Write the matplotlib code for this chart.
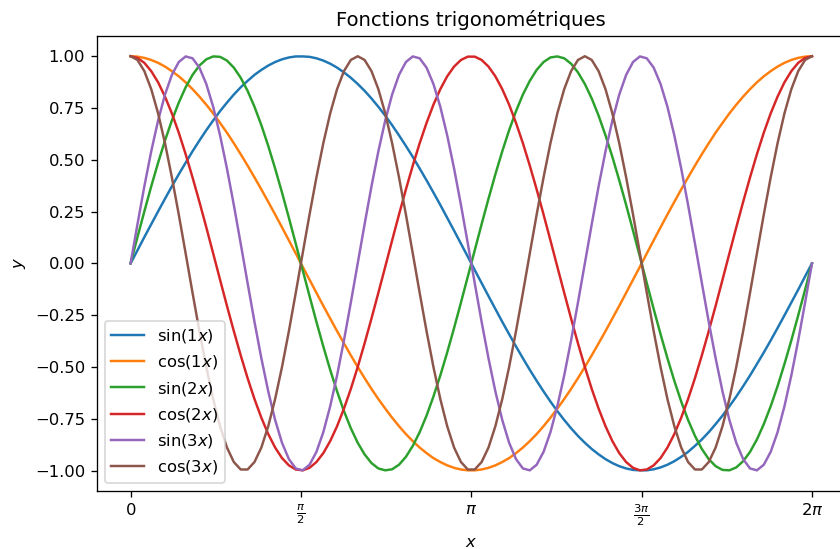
import numpy as np
import matplotlib
matplotlib.use('Agg')
import matplotlib.pyplot as plt

# 100 points between 0 and 2pi
x = np.linspace(0, 2 * np.pi, 100)

sin1 = [0.000, 0.063, 0.127, 0.189, 0.251, 0.312, 0.372, 0.430, 0.486, 0.541,
        0.593, 0.643, 0.690, 0.735, 0.776, 0.815, 0.850, 0.881, 0.910, 0.934,
        0.955, 0.972, 0.985, 0.994, 0.999, 0.999, 0.997, 0.990, 0.979, 0.964,
        0.945, 0.922, 0.896, 0.866, 0.833, 0.796, 0.756, 0.713, 0.667, 0.618,
        0.567, 0.514, 0.458, 0.401, 0.342, 0.282, 0.220, 0.158, 0.095, 0.032,
        -0.032, -0.095, -0.158, -0.220, -0.282, -0.342, -0.401, -0.458, -0.514, -0.567,
        -0.618, -0.667, -0.713, -0.756, -0.796, -0.833, -0.866, -0.896, -0.922, -0.945,
        -0.964, -0.979, -0.990, -0.997, -0.999, -0.999, -0.994, -0.985, -0.972, -0.955,
        -0.934, -0.910, -0.881, -0.850, -0.815, -0.776, -0.735, -0.690, -0.643, -0.593,
        -0.541, -0.486, -0.430, -0.372, -0.312, -0.251, -0.189, -0.127, -0.063, 0.000]

cos1 = [1.000, 0.998, 0.992, 0.982, 0.968, 0.950, 0.928, 0.903, 0.874, 0.841,
        0.805, 0.766, 0.724, 0.678, 0.631, 0.580, 0.527, 0.472, 0.415, 0.357,
        0.297, 0.236, 0.174, 0.111, 0.048, -0.016, -0.079, -0.142, -0.205, -0.266,
        -0.327, -0.386, -0.444, -0.500, -0.554, -0.606, -0.655, -0.701, -0.745, -0.786,
        -0.824, -0.858, -0.889, -0.916, -0.940, -0.959, -0.975, -0.987, -0.995, -0.999,
        -0.999, -0.995, -0.987, -0.975, -0.959, -0.940, -0.916, -0.889, -0.858, -0.824,
        -0.786, -0.745, -0.701, -0.655, -0.606, -0.554, -0.500, -0.444, -0.386, -0.327,
        -0.266, -0.205, -0.142, -0.079, -0.016, 0.048, 0.111, 0.174, 0.236, 0.297,
        0.357, 0.415, 0.472, 0.527, 0.580, 0.631, 0.678, 0.724, 0.766, 0.805,
        0.841, 0.874, 0.903, 0.928, 0.950, 0.968, 0.982, 0.992, 0.998, 1.000]

sin2 = [0.000, 0.127, 0.251, 0.372, 0.486, 0.593, 0.690, 0.776, 0.850, 0.910,
        0.955, 0.985, 0.999, 0.997, 0.979, 0.945, 0.896, 0.833, 0.756, 0.667,
        0.567, 0.458, 0.342, 0.220, 0.095, -0.032, -0.158, -0.282, -0.401, -0.514,
        -0.618, -0.713, -0.796, -0.866, -0.922, -0.964, -0.990, -0.999, -0.994, -0.972,
        -0.934, -0.881, -0.815, -0.735, -0.643, -0.541, -0.430, -0.312, -0.189, -0.063,
        0.063, 0.189, 0.312, 0.430, 0.541, 0.643, 0.735, 0.815, 0.881, 0.934,
        0.972, 0.994, 0.999, 0.990, 0.964, 0.922, 0.866, 0.796, 0.713, 0.618,
        0.514, 0.401, 0.282, 0.158, 0.032, -0.095, -0.220, -0.342, -0.458, -0.567,
        -0.667, -0.756, -0.833, -0.896, -0.945, -0.979, -0.997, -0.999, -0.985, -0.955,
        -0.910, -0.850, -0.776, -0.690, -0.593, -0.486, -0.372, -0.251, -0.127, 0.000]

cos2 = [1.000, 0.992, 0.968, 0.928, 0.874, 0.805, 0.724, 0.631, 0.527, 0.415,
        0.297, 0.174, 0.048, -0.079, -0.205, -0.327, -0.444, -0.554, -0.655, -0.745,
        -0.824, -0.889, -0.940, -0.975, -0.995, -0.999, -0.987, -0.959, -0.916, -0.858,
        -0.786, -0.701, -0.606, -0.500, -0.386, -0.266, -0.142, -0.016, 0.111, 0.236,
        0.357, 0.472, 0.580, 0.678, 0.766, 0.841, 0.903, 0.950, 0.982, 0.998,
        0.998, 0.982, 0.950, 0.903, 0.841, 0.766, 0.678, 0.580, 0.472, 0.357,
        0.236, 0.111, -0.016, -0.142, -0.266, -0.386, -0.500, -0.606, -0.701, -0.786,
        -0.858, -0.916, -0.959, -0.987, -0.999, -0.995, -0.975, -0.940, -0.889, -0.824,
        -0.745, -0.655, -0.554, -0.444, -0.327, -0.205, -0.079, 0.048, 0.174, 0.297,
        0.415, 0.527, 0.631, 0.724, 0.805, 0.874, 0.928, 0.968, 0.992, 1.000]

sin3 = [0.000, 0.189, 0.372, 0.541, 0.690, 0.815, 0.910, 0.972, 0.999, 0.990,
        0.945, 0.866, 0.756, 0.618, 0.458, 0.282, 0.095, -0.095, -0.282, -0.458,
        -0.618, -0.756, -0.866, -0.945, -0.990, -0.999, -0.972, -0.910, -0.815, -0.690,
        -0.541, -0.372, -0.189, 0.000, 0.189, 0.372, 0.541, 0.690, 0.815, 0.910,
        0.972, 0.999, 0.990, 0.945, 0.866, 0.756, 0.618, 0.458, 0.282, 0.095,
        -0.095, -0.282, -0.458, -0.618, -0.756, -0.866, -0.945, -0.990, -0.999, -0.972,
        -0.910, -0.815, -0.690, -0.541, -0.372, -0.189, 0.000, 0.189, 0.372, 0.541,
        0.690, 0.815, 0.910, 0.972, 0.999, 0.990, 0.945, 0.866, 0.756, 0.618,
        0.458, 0.282, 0.095, -0.095, -0.282, -0.458, -0.618, -0.756, -0.866, -0.945,
        -0.990, -0.999, -0.972, -0.910, -0.815, -0.690, -0.541, -0.372, -0.189, 0.000]

cos3 = [1.000, 0.982, 0.928, 0.841, 0.724, 0.580, 0.415, 0.236, 0.048, -0.142,
        -0.327, -0.500, -0.655, -0.786, -0.889, -0.959, -0.995, -0.995, -0.959, -0.889,
        -0.786, -0.655, -0.500, -0.327, -0.142, 0.048, 0.236, 0.415, 0.580, 0.724,
        0.841, 0.928, 0.982, 1.000, 0.982, 0.928, 0.841, 0.724, 0.580, 0.415,
        0.236, 0.048, -0.142, -0.327, -0.500, -0.655, -0.786, -0.889, -0.959, -0.995,
        -0.995, -0.959, -0.889, -0.786, -0.655, -0.500, -0.327, -0.142, 0.048, 0.236,
        0.415, 0.580, 0.724, 0.841, 0.928, 0.982, 1.000, 0.982, 0.928, 0.841,
        0.724, 0.580, 0.415, 0.236, 0.048, -0.142, -0.327, -0.500, -0.655, -0.786,
        -0.889, -0.959, -0.995, -0.995, -0.959, -0.889, -0.786, -0.655, -0.500, -0.327,
        -0.142, 0.048, 0.236, 0.415, 0.580, 0.724, 0.841, 0.928, 0.982, 1.000]

series = [sin1, cos1, sin2, cos2, sin3, cos3]
labels = ['sin(1$x$)', 'cos(1$x$)', 'sin(2$x$)', 'cos(2$x$)', 'sin(3$x$)', 'cos(3$x$)']

tick_pos = [0, np.pi / 2, np.pi, 3 * np.pi / 2, 2 * np.pi]
tick_labels = ['$0$', r'$\frac{\pi}{2}$', r'$\pi$', r'$\frac{3\pi}{2}$', r'$2\pi$']

# higher dpi on a smaller figure -> everything a bit bigger, same 840x549 px
dpi = 118
fig = plt.figure(figsize=(840 / dpi, 549 / dpi), dpi=dpi)
ax = fig.add_axes([0.1149, 0.1056, 0.8923, 0.8297])

for y, lab in zip(series, labels):
    ax.plot(x, y, label=lab)

ax.set_xticks(tick_pos)
ax.set_xticklabels(tick_labels)
ax.set_xlabel('$x$')
ax.set_ylabel('$y$')
ax.set_title('Fonctions trigonométriques')
ax.legend(loc='lower left')

fig.savefig('out.png', dpi=dpi)
